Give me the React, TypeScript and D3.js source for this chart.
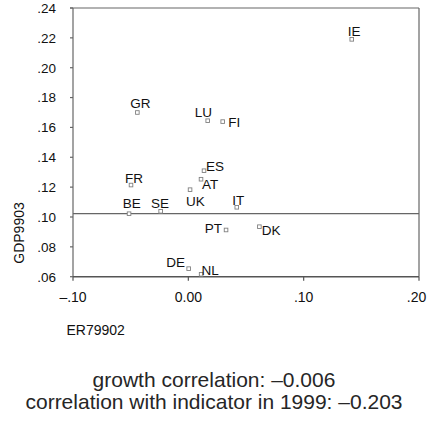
import React from "react";
import * as d3 from "d3";

const countries = ["IE", "GR", "LU", "FI", "ES", "AT", "FR", "UK", "BE", "SE", "IT", "PT", "DK", "DE", "NL"];
const er79902 = [0.1417, -0.0442, 0.0168, 0.0298, 0.0136, 0.011, -0.0497, 0.0015, -0.0514, -0.024, 0.042, 0.0327, 0.0616, 0.0003, 0.0111];
const gdp9903 = [0.219, 0.170, 0.1645, 0.1639, 0.131, 0.1253, 0.1214, 0.1183, 0.1022, 0.1038, 0.1065, 0.0913, 0.0935, 0.0654, 0.0616];
const meanLine = 0.1023;

const xTicks = [-0.1, 0, 0.1, 0.2];
const xTickLabels = ["\u2013.10", "0.00", ".10", ".20"];
const yTicks = [0.06, 0.08, 0.1, 0.12, 0.14, 0.16, 0.18, 0.2, 0.22, 0.24];
const yTickLabels = [".06", ".08", ".10", ".12", ".14", ".16", ".18", ".20", ".22", ".24"];

const xTitle = "ER79902";
const yTitle = "GDP9903";
const caption = ["growth correlation: \u20130.006", "correlation with indicator in 1999: \u20130.203"];

// label placement (layout): [dx, dy, anchor]
const labelPlacement: Record<string, [number, number, string]> = {
  IE: [-4, -3.6, "start"],
  GR: [-7, -4.4, "start"],
  LU: [-13, -4, "start"],
  FI: [5.6, 5, "start"],
  ES: [2, 0.5, "start"],
  AT: [1, 10, "start"],
  FR: [-6, -2.4, "start"],
  UK: [-4, 16, "start"],
  BE: [-6.3, -5.7, "start"],
  SE: [-9.7, -3.4, "start"],
  IT: [-4.4, -2.3, "start"],
  PT: [-4, 3.3, "end"],
  DK: [2.4, 8.3, "start"],
  DE: [-3.7, -2, "end"],
  NL: [0.4, 0.7, "start"],
};

export default function App() {
  const W = 427, H = 421;
  const left = 73, right = 419, top = 8, bottom = 276.7;
  const x = d3.scaleLinear().domain([-0.1, 0.2]).range([left, right]);
  const y = d3.scaleLinear().domain([0.06, 0.24]).range([bottom, top]);
  const font = "'Liberation Sans', Arial, Helvetica, sans-serif";
  const lineColor = "#666";
  const textColor = "#111";

  return (
    <svg width={W} height={H} style={{ position: "absolute", left: 0, top: 0, background: "#fff" }} fontFamily={font}>
      {/* frame */}
      <line x1={x(-0.1) - 3} x2={right} y1={top} y2={top} stroke={lineColor} strokeWidth={1.2} />
      <line x1={right} x2={right} y1={top} y2={bottom} stroke={lineColor} strokeWidth={1.2} />
      <line x1={left} x2={left} y1={top} y2={bottom} stroke={lineColor} strokeWidth={1.2} />
      <line x1={left} x2={right} y1={bottom} y2={bottom} stroke="#555" strokeWidth={1.6} />
      {/* mean line */}
      <line x1={left} x2={right} y1={y(meanLine)} y2={y(meanLine)} stroke={lineColor} strokeWidth={1.2} />
      {/* y ticks */}
      {yTicks.map((t, i) => (
        <g key={"y" + i}>
          <line x1={left - 3} x2={left} y1={y(t)} y2={y(t)} stroke={lineColor} strokeWidth={1.2} />
          <text x={56} y={y(t)} dy="0.36em" textAnchor="end" fontSize={13.5} fill={textColor}>{yTickLabels[i]}</text>
        </g>
      ))}
      {/* x ticks */}
      {xTicks.map((t, i) => (
        <g key={"x" + i}>
          <line x1={x(t)} x2={x(t)} y1={bottom} y2={bottom + 4} stroke="#555" strokeWidth={1.2} />
          <text x={Math.min(x(t), W - 10.5)} y={bottom + 25} textAnchor="middle" fontSize={14} fill={textColor}>{xTickLabels[i]}</text>
        </g>
      ))}
      {/* axis titles */}
      <text x={66.5} y={335} fontSize={14} fill={textColor}>{xTitle}</text>
      <text transform={`translate(24,233) rotate(-90)`} textAnchor="middle" fontSize={14} fill={textColor}>{yTitle}</text>
      {/* points */}
      {countries.map((c, i) => {
        const px = x(er79902[i]);
        const py = y(gdp9903[i]);
        const [dx, dy, anchor] = labelPlacement[c];
        return (
          <g key={c}>
            <rect x={px - 1.8} y={py - 1.8} width={3.6} height={3.6} fill="#fff" stroke="#808080" strokeWidth={0.9} />
            <text x={px + dx} y={py + dy} textAnchor={anchor as any} fontSize={13.5} fill={textColor}>{c}</text>
          </g>
        );
      })}
      {/* caption */}
      {caption.map((s, i) => (
        <text key={"c" + i} x={214} y={387 + i * 22} textAnchor="middle" fontSize={21} fill="#262626">{s}</text>
      ))}
    </svg>
  );
}
